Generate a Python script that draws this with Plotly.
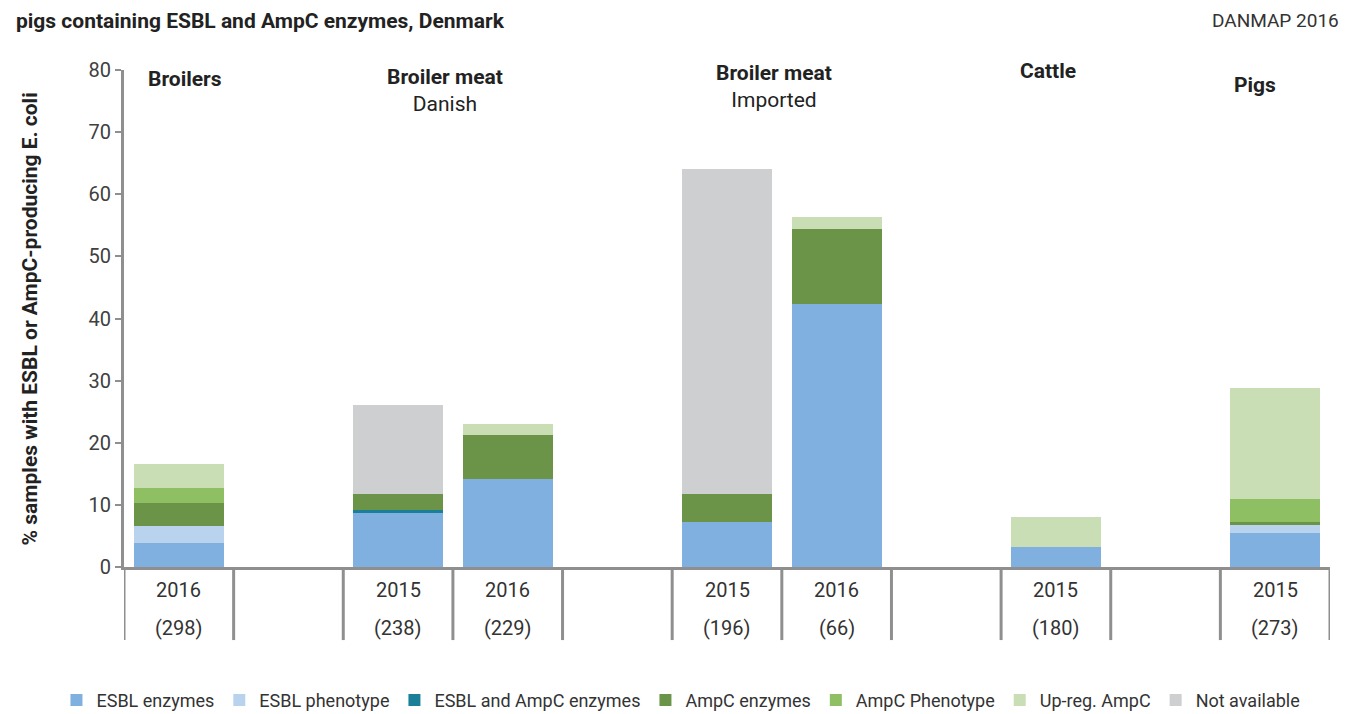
import plotly.graph_objects as go

# slot positions along the x axis (gaps between groups are empty slots)
n_slots = 11
bar_slots = [0, 2, 3, 5, 6, 8, 10]
years = ["2016", "2015", "2016", "2015", "2016", "2015", "2015"]
sample_n = ["(298)", "(238)", "(229)", "(196)", "(66)", "(180)", "(273)"]

# % of samples per category (stacked, bottom to top)
esbl_enzymes = [3.8, 8.8, 14.2, 7.2, 42.4, 3.2, 5.4]
esbl_phenotype = [2.8, 0, 0, 0, 0, 0, 1.5]
esbl_ampc = [0, 0.3, 0, 0, 0, 0, 0]
ampc_enzymes = [3.7, 2.6, 7.1, 4.5, 12.0, 0, 0.3]
ampc_phenotype = [2.4, 0, 0, 0, 0, 0, 3.7]
upreg_ampc = [3.9, 0, 1.7, 0, 1.9, 4.8, 17.9]
not_available = [0, 14.3, 0, 52.4, 0, 0, 0]

group_titles = ["<b>Broilers</b>", "<b>Broiler meat</b><br>Danish",
                "<b>Broiler meat</b><br>Imported", "<b>Cattle</b>", "<b>Pigs</b>"]
group_x = [0.06, 2.43, 5.43, 7.93, 9.82]
group_top = [1.010, 1.014, 1.022, 1.026, 0.998]   # paper y of heading top

series = [
    ("ESBL enzymes", esbl_enzymes, '#7fb0e0'),
    ("ESBL phenotype", esbl_phenotype, '#b9d3ee'),
    ("ESBL and AmpC enzymes", esbl_ampc, '#1b7f99'),
    ("AmpC enzymes", ampc_enzymes, '#6b9449'),
    ("AmpC Phenotype", ampc_phenotype, '#8fbf63'),
    ("Up-reg. AmpC", upreg_ampc, '#cadeb5'),
    ("Not available", not_available, '#cdcfd1'),
]

FONT = "Roboto, 'Open Sans', sans-serif"
AXIS_GREY = '#8f8f8f'

fig = go.Figure()
for name, vals, color in series:
    fig.add_trace(go.Bar(
        x=bar_slots, y=vals, name=name, width=0.82,
        marker=dict(color=color, line=dict(width=0)),
    ))

# page body has an 8px margin, so the figure is 8px smaller each way
fig.update_layout(
    barmode='stack',
    width=1340, height=706,
    margin=dict(l=116, r=18, t=62, b=147, autoexpand=False),
    plot_bgcolor='white', paper_bgcolor='white',
    font=dict(family=FONT, size=20, color='#333333'),
    legend=dict(orientation='h', x=-0.056, xanchor='left', y=-0.268, yanchor='middle',
                font=dict(size=18, color='#333333'), traceorder='normal',
                itemwidth=30, tracegroupgap=0),
    showlegend=True,
)

fig.update_xaxes(
    range=[-0.5, n_slots - 0.5], showticklabels=False, ticks='',
    showgrid=False, zeroline=False, showline=True, linecolor=AXIS_GREY, linewidth=3,
)
fig.update_yaxes(
    range=[0, 80], dtick=10, showgrid=False, zeroline=False,
    showline=True, linecolor=AXIS_GREY, linewidth=3,
    ticks='outside', ticklen=6, tickwidth=2, tickcolor=AXIS_GREY,
    tickfont=dict(size=20, color='#404040'),
)

# table-style dividers under the axis
for i in range(n_slots + 1):
    fig.add_shape(type='line', xref='x', yref='paper',
                  x0=i - 0.5, x1=i - 0.5, y0=0, y1=-0.147,
                  line=dict(color=AXIS_GREY, width=3))

# year and sample size labels
for s, yr, n in zip(bar_slots, years, sample_n):
    fig.add_annotation(x=s, y=-0.046, xref='x', yref='paper', text=yr,
                       xanchor='center', yanchor='middle', showarrow=False,
                       font=dict(size=20, color='#333333'))
    fig.add_annotation(x=s, y=-0.123, xref='x', yref='paper', text=n,
                       xanchor='center', yanchor='middle', showarrow=False,
                       font=dict(size=20, color='#333333'))

# group headings
for gx, gy, gt in zip(group_x, group_top, group_titles):
    fig.add_annotation(x=gx, y=gy, xref='x', yref='paper', text=gt, showarrow=False,
                       xanchor='center', yanchor='top',
                       font=dict(size=21, color='#222222'))

# y axis title
fig.add_annotation(x=-0.078, y=0.5, xref='paper', yref='paper', textangle=-90,
                   text="<b>% samples with ESBL or AmpC-producing E. coli</b>",
                   xanchor='center', yanchor='middle', showarrow=False,
                   font=dict(size=21, color='#222222'))

# figure caption and source
fig.add_annotation(x=-0.0912, y=1.0986, xref='paper', yref='paper',
                   xanchor='left', yanchor='middle',
                   text="<b>pigs containing ESBL and AmpC enzymes, Denmark</b>",
                   showarrow=False, font=dict(size=21, color='#222222'))
fig.add_annotation(x=1.0095, y=1.0986, xref='paper', yref='paper',
                   xanchor='right', yanchor='middle',
                   text="DANMAP 2016", showarrow=False,
                   font=dict(size=19, color='#333333'))

fig.write_html("out.html")
